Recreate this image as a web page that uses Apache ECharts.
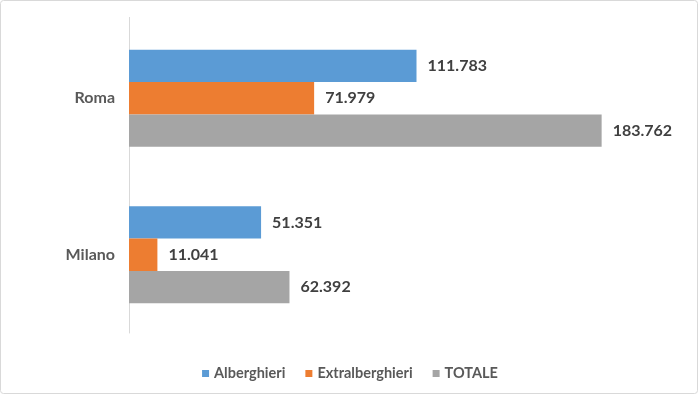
<!DOCTYPE html>
<html>
<head>
<meta charset="utf-8">
<script src="https://cdn.jsdelivr.net/npm/echarts@6/dist/echarts.min.js"></script>
<style>
html,body{margin:0;padding:0;background:#fff;}
#chart{width:700px;height:395px;}
</style>
</head>
<body>
<div id="chart"></div>
<script>
const categories = ['Roma', 'Milano'];
const alberghieri = [111.783, 51.351];
const extralberghieri = [71.979, 11.041];
const totale = [183.762, 62.392];
const seriesNames = ['Alberghieri', 'Extralberghieri', 'TOTALE'];
const colors = ['#5B9BD5', '#ED7D31', '#A5A5A5'];

const chart = echarts.init(document.getElementById('chart'));
const font = 'Lato, "Open Sans", sans-serif';
const label = {
  show: true, position: 'right', distance: 11,
  color: '#404040', fontFamily: font, fontWeight: 'bold', fontSize: 16,
  formatter: p => p.value.toFixed(3)
};
const data = [alberghieri, extralberghieri, totale];
chart.setOption({
  animation: false,
  backgroundColor: '#fff',
  graphic: [{
    type: 'rect', shape: {x: 0.5, y: 0.5, width: 697, height: 393, r: 3},
    style: {fill: 'none', stroke: '#d9d9d9', lineWidth: 1}, silent: true, z: -1
  }, {
    type: 'line', shape: {x1: 129.5, y1: 17, x2: 129.5, y2: 20},
    style: {stroke: '#d9d9d9', lineWidth: 1}, silent: true
  }],
  grid: {left: 129, right: 56.6, top: 20, bottom: 62, containLabel: false},
  xAxis: {type: 'value', min: 0, max: 200, show: false, splitLine: {show: false}},
  yAxis: {
    type: 'category', data: categories, inverse: true,
    axisLine: {show: true, lineStyle: {color: '#d9d9d9', width: 1}},
    axisTick: {show: false},
    axisLabel: {color: '#595959', fontFamily: font, fontWeight: 'bold', fontSize: 16, margin: 14}
  },
  legend: {
    bottom: 9, left: 'center', itemWidth: 7, itemHeight: 7, itemGap: 20,
    icon: 'rect', data: seriesNames,
    textStyle: {color: '#595959', fontFamily: font, fontWeight: 'bold', fontSize: 14.5}
  },
  series: seriesNames.map((n, i) => ({
    name: n, type: 'bar', data: data[i], barGap: '0%', barCategoryGap: '38%',
    itemStyle: {color: colors[i]}, label: label
  }))
});
</script>
</body>
</html>
